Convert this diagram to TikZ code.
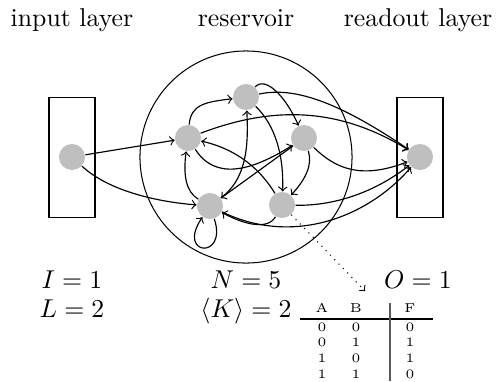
\documentclass[tikz,border=0pt]{standalone}
\begin{document}
\begin{tikzpicture}[x=0.388pt,y=-0.388pt,
  neuron/.style={circle,fill=lightgray,inner sep=0pt,minimum size=10.1pt},
  layerbox/.style={draw,rectangle,inner sep=0pt,minimum width=17.85pt,minimum height=46.9pt},
  pool/.style={draw,circle,inner sep=0pt,minimum size=82.3pt},
  link/.style={->,line width=0.45pt},
  title/.style={anchor=base,inner sep=0pt},
  param/.style={anchor=base,inner sep=0pt},
  cell/.style={font=\tiny,inner sep=0pt,anchor=base}]
\useasboundingbox (0,0) rectangle (497,381);
% titles
\node[title] (tin) at (72,26) {input layer};
\node[title] (tres) at (246,26) {reservoir};
\node[title] (tout) at (418,26) {readout layer};
% boxes
\node[layerbox] (inbox) at (72,157.5) {};
\node[layerbox] (outbox) at (420,157.5) {};
\node[pool] (res) at (246,157) {};
% neurons
\node[neuron] (in) at (72,157) {};
\node[neuron] (out) at (420,157) {};
\node[neuron] (A) at (246,97) {};
\node[neuron] (B) at (188,138) {};
\node[neuron] (C) at (304,138) {};
\node[neuron] (D) at (210,206) {};
\node[neuron] (E) at (282,205) {};
% links
\draw[link] (in) -- (B);
\draw[link] (in) .. controls (110,192) and (160,202) .. (D);
\draw[link] (B) .. controls (191,104) and (206,102) .. (A);
\draw[link] (A) .. controls (265,76) and (285,95) .. (C);
\draw[link] (A) .. controls (300,85) and (350,110) .. (out);
\draw[link] (B) .. controls (275,105) and (340,108) .. (out);
\draw[link] (C) .. controls (335,168) and (360,180) .. (out);
\draw[link] (E) .. controls (335,206) and (375,192) .. (out);
\draw[link] (D) .. controls (290,245) and (365,220) .. (out);
\draw[link] (A) .. controls (275,125) and (284,155) .. (E);
\draw[link] (C) .. controls (313,165) and (305,180) .. (E);
\draw[link] (D) .. controls (245,180) and (249,150) .. (A);
\draw[link] (C) -- (D);
\draw[link] (B) .. controls (215,180) and (250,172) .. (C);
\draw[link] (E) .. controls (262,172) and (240,150) .. (B);
\draw[link] (D) .. controls (186,192) and (183,175) .. (B);
\draw[link] (D) .. controls (228,260) and (176,256) .. (D);
\draw[link] (E) .. controls (268,230) and (245,225) .. (D);
% pointer to table
\coordinate (T) at (365,291);
\draw[dotted,->] (E) -- (T);
% parameters
\node[param] (pI) at (72,288) {$I=1$};
\node[param] (pL) at (72,317) {$L=2$};
\node[param] (pN) at (246,288) {$N=5$};
\node[param] (pK) at (246,317) {$\langle K\rangle=2$};
\node[param] (pO) at (418,288) {$O=1$};
% truth table
\node[cell] (hA) at (322,312) {A};
\node[cell] (hB) at (356,312) {B};
\node[cell] (hF) at (410,312) {F};
\draw[line width=0.5pt] (300,319) -- (433,319);
\draw[line width=0.4pt,black!65] (390,303) -- (390,381);
\node[cell] (r1a) at (322,331) {0};
\node[cell] (r1b) at (356,331) {0};
\node[cell] (r1f) at (410,331) {0};
\node[cell] (r2a) at (322,346.7) {0};
\node[cell] (r2b) at (356,346.7) {1};
\node[cell] (r2f) at (410,346.7) {1};
\node[cell] (r3a) at (322,362.3) {1};
\node[cell] (r3b) at (356,362.3) {0};
\node[cell] (r3f) at (410,362.3) {1};
\node[cell] (r4a) at (322,378) {1};
\node[cell] (r4b) at (356,378) {1};
\node[cell] (r4f) at (410,378) {0};
\end{tikzpicture}
\end{document}
